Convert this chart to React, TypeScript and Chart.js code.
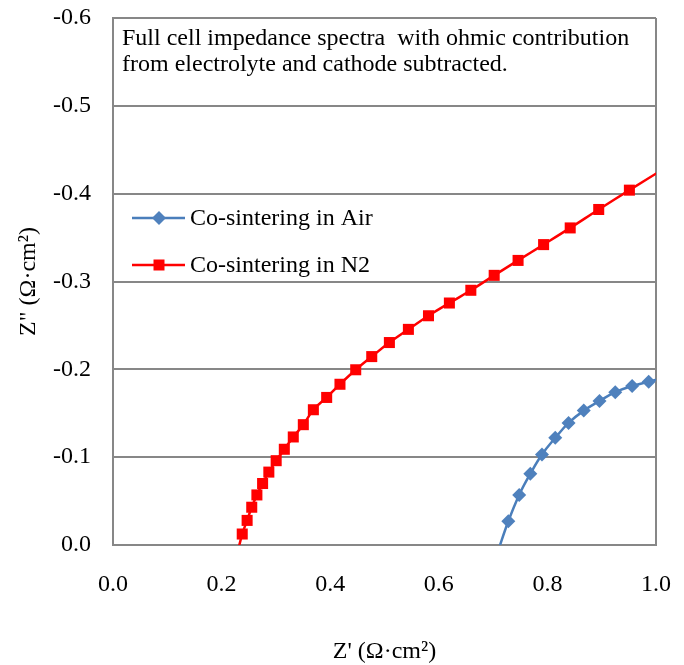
import { useEffect, useRef } from "react";
import { Chart, registerables } from "chart.js";

Chart.register(...registerables);

// Co-sintering in Air (Z', Z'')
const airZReal = [0.7085, 0.728, 0.748, 0.7685, 0.79, 0.8145, 0.839, 0.867, 0.896, 0.925, 0.956, 0.9865, 1.017];
const airZImag = [0.008, -0.027, -0.057, -0.081, -0.103, -0.122, -0.139, -0.153, -0.164, -0.174, -0.181, -0.186, -0.191];

// Co-sintering in N2 (Z', Z'')
const n2ZReal = [0.2295, 0.238, 0.247, 0.2555, 0.265, 0.2755, 0.287, 0.3005, 0.3155, 0.332, 0.3505, 0.369, 0.3935, 0.418, 0.447, 0.4765, 0.509, 0.544, 0.581, 0.6195, 0.659, 0.702, 0.746, 0.793, 0.842, 0.8945, 0.951, 1.011];
const n2ZImag = [0.008, -0.0125, -0.028, -0.043, -0.057, -0.07, -0.083, -0.096, -0.109, -0.123, -0.137, -0.154, -0.168, -0.183, -0.1995, -0.2145, -0.2305, -0.2455, -0.261, -0.2755, -0.29, -0.307, -0.324, -0.342, -0.361, -0.382, -0.404, -0.427];

const xTicks = [0, 0.2, 0.4, 0.6, 0.8, 1.0];
const yTicks = [0, -0.1, -0.2, -0.3, -0.4, -0.5, -0.6];

const seriesNames = ["Co-sintering in Air", "Co-sintering in N2"];
const noteLines = [
  "Full cell impedance spectra  with ohmic contribution",
  "from electrolyte and cathode subtracted.",
];
const xTitle = "Z' (Ω·cm²)";
const yTitle = 'Z" (Ω·cm²)';

const FONT = "'Liberation Serif', 'Times New Roman', serif";
const GRID = "#878787";
const BLUE = "#4A7EBB";
const BLUE_MARK = "#4F81BD";
const RED = "#FF0000";

function pts(xs: number[], ys: number[]) {
  return xs.map((x, i) => ({ x, y: ys[i] }));
}

function drawMarker(ctx: CanvasRenderingContext2D, style: string, x: number, y: number, color: string) {
  ctx.fillStyle = color;
  ctx.beginPath();
  if (style === "rect") {
    ctx.rect(x - 5.5, y - 5.5, 11, 11);
  } else {
    ctx.moveTo(x, y - 7);
    ctx.lineTo(x + 7, y);
    ctx.lineTo(x, y + 7);
    ctx.lineTo(x - 7, y);
    ctx.closePath();
  }
  ctx.fill();
}

const overlayPlugin = {
  id: "overlay",
  afterDraw(chart: any) {
    const ctx: CanvasRenderingContext2D = chart.ctx;
    const a = chart.chartArea;
    ctx.save();
    ctx.font = `24px ${FONT}`;
    ctx.fillStyle = "#000";
    ctx.textAlign = "left";
    ctx.textBaseline = "alphabetic";
    noteLines.forEach((t, i) => ctx.fillText(t, a.left + 9, a.top + 27 + i * 26));

    chart.data.datasets.forEach((ds: any, i: number) => {
      const y = a.top + 200 + i * 47;
      ctx.strokeStyle = ds.borderColor;
      ctx.lineWidth = ds.borderWidth;
      ctx.beginPath();
      ctx.moveTo(a.left + 19, y);
      ctx.lineTo(a.left + 72, y);
      ctx.stroke();
      drawMarker(ctx, ds.pointStyle, a.left + 46, y, ds.pointBackgroundColor);
      ctx.fillStyle = "#000";
      ctx.textBaseline = "middle";
      ctx.font = `24px ${FONT}`;
      ctx.fillText(ds.label, a.left + 77, y + 1);
    });
    ctx.restore();
  },
};

export default function App() {
  const ref = useRef<HTMLCanvasElement | null>(null);

  useEffect(() => {
    if (!ref.current) return;
    const radiusFn = (big: number) => (c: any) => {
      const p = c.raw;
      if (!p || p.x > 1 || p.y > 0) return 0;
      return big;
    };
    const zeroPad = (s: any) => {
      s.paddingLeft = 0;
      s.paddingRight = 0;
      s.paddingTop = 0;
      s.paddingBottom = 0;
    };
    const chart = new Chart(ref.current, {
      type: "scatter",
      data: {
        datasets: [
          {
            label: seriesNames[0],
            data: pts(airZReal, airZImag),
            showLine: true,
            borderColor: BLUE,
            borderWidth: 2.5,
            pointStyle: "rectRot",
            pointRadius: radiusFn(7),
            pointBackgroundColor: BLUE_MARK,
            pointBorderWidth: 0,
            pointBorderColor: BLUE_MARK,
            tension: 0.4,
            clip: 0,
          } as any,
          {
            label: seriesNames[1],
            data: pts(n2ZReal, n2ZImag),
            showLine: true,
            borderColor: RED,
            borderWidth: 2.5,
            pointStyle: "rect",
            pointRadius: radiusFn(7.8),
            pointBackgroundColor: RED,
            pointBorderWidth: 0,
            pointBorderColor: RED,
            tension: 0.4,
            clip: 0,
          } as any,
        ],
      },
      options: {
        animation: false,
        responsive: false,
        devicePixelRatio: 1,
        layout: { padding: { top: 18, right: 28, left: 0, bottom: 0 } },
        plugins: {
          legend: { display: false },
          tooltip: { enabled: false },
        },
        scales: {
          x: {
            type: "linear",
            min: 0,
            max: 1,
            afterFit: (s: any) => {
              s.height = 120;
              zeroPad(s);
            },
            afterBuildTicks: (s: any) => {
              s.ticks = xTicks.map((v) => ({ value: v }));
            },
            ticks: {
              font: { family: FONT, size: 24 },
              color: "#000",
              padding: 25,
              maxRotation: 0,
              callback: (v: any) => Number(v).toFixed(1),
            },
            grid: {
              drawTicks: false,
              lineWidth: 2,
              color: (c: any) => (c.tick && c.tick.value === 1 ? GRID : "rgba(0,0,0,0)"),
            },
            border: { display: true, color: GRID, width: 2 },
            title: {
              display: true,
              text: xTitle,
              font: { family: FONT, size: 24 },
              color: "#000",
              padding: { top: 0, bottom: -1 },
            },
          },
          y: {
            type: "linear",
            min: -0.6,
            max: 0,
            reverse: true,
            afterFit: (s: any) => {
              s.width = 113;
              zeroPad(s);
            },
            afterBuildTicks: (s: any) => {
              s.ticks = yTicks.map((v) => ({ value: v }));
            },
            ticks: {
              font: { family: FONT, size: 24 },
              color: "#000",
              padding: 22,
              callback: (v: any) => {
                const n = Number(v);
                return Math.abs(n) < 1e-9 ? "0.0" : n.toFixed(1);
              },
            },
            grid: { drawTicks: false, lineWidth: 2, color: GRID },
            border: { display: true, color: GRID, width: 2 },
            title: {
              display: true,
              text: yTitle,
              font: { family: FONT, size: 24 },
              color: "#000",
              padding: { top: 14, bottom: 0 },
            },
          },
        },
      },
      plugins: [overlayPlugin],
    });
    return () => chart.destroy();
  }, []);

  return (
    <div style={{ position: "fixed", left: 0, top: 0, width: 684, height: 665, background: "#fff" }}>
      <canvas ref={ref} width={684} height={665} style={{ width: 684, height: 665, display: "block" }} />
    </div>
  );
}
